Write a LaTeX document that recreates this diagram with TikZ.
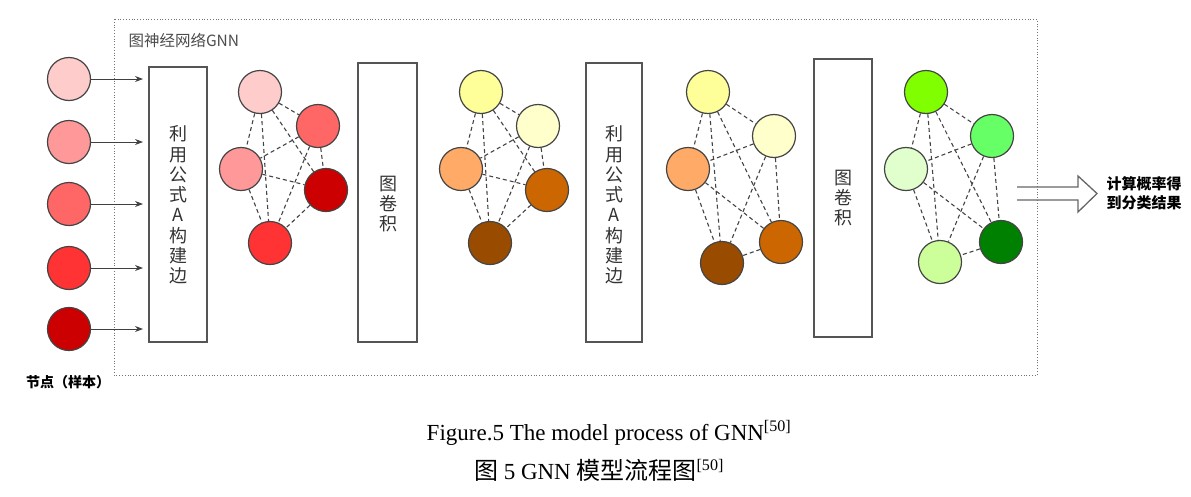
\documentclass[tikz,border=0pt]{standalone}
\usepackage{fontspec}
\setmainfont{Liberation Serif}
\newfontfamily\cjk{Noto Sans CJK SC}
\usetikzlibrary{arrows.meta}
\definecolor{r1}{HTML}{FFCCCC}
\definecolor{r2}{HTML}{FF9999}
\definecolor{r3}{HTML}{FF6666}
\definecolor{r4}{HTML}{FF3333}
\definecolor{r5}{HTML}{CC0000}
\definecolor{y1}{HTML}{FFFF99}
\definecolor{y2}{HTML}{FFFFCC}
\definecolor{o1}{HTML}{FFAA66}
\definecolor{o2}{HTML}{CC6600}
\definecolor{o3}{HTML}{994C00}
\definecolor{gA}{HTML}{80FF00}
\definecolor{gB}{HTML}{66FF66}
\definecolor{gC}{HTML}{E0FFCC}
\definecolor{gD}{HTML}{008000}
\definecolor{gE}{HTML}{CCFF99}
\definecolor{linegray}{HTML}{444444}
\definecolor{boxgray}{HTML}{555555}
\tikzset{
  nd/.style={circle,draw=linegray,line width=1.2pt,minimum size=43pt,inner sep=0pt},
  edge/.style={draw=linegray,line width=1.1pt,dash pattern=on 4pt off 3pt},
  stagebox/.style={draw=boxgray,line width=1.6pt,fill=white},
  vtext/.style={align=center,font=\cjk\fontsize{18}{20.3}\selectfont,text=black!80},
  inarrow/.style={draw=black!75,line width=0.9pt,-{Stealth[length=8pt,width=6pt]}},
}
\begin{document}
\begin{tikzpicture}[x=1pt,y=-1pt]
\useasboundingbox (0,0) rectangle (1191,496);
% outer dotted frame
\draw[black!55,line width=0.8pt,dotted] (114,19) rectangle (1037,375);
\node[anchor=west,font=\cjk\fontsize{15.5}{16}\selectfont,text=black!70] (title) at (125,41) {图神经网络GNN};
% input nodes
\foreach \i/\y/\c in {1/79/r1,2/142/r2,3/204/r3,4/268/r4,5/329/r5}{
  \node[nd,fill=\c] (n\i) at (69,\y) {};
  \coordinate (t\i) at (143,\y);
  \draw[inarrow] (n\i.east) -- (t\i);
}
\node[font=\cjk\bfseries\fontsize{14}{15}\selectfont] (lbl) at (68,382) {节点（样本）};
% stage boxes
\draw[stagebox] (149,67) rectangle (207,342);
\node[vtext] (b1) at (178,205) {利\\用\\公\\式\\A\\构\\建\\边};
\draw[stagebox] (358,63) rectangle (417,342);
\node[vtext] (b2) at (388,204) {图\\卷\\积};
\draw[stagebox] (586,63) rectangle (642,342);
\node[vtext] (b3) at (614,205) {利\\用\\公\\式\\A\\构\\建\\边};
\draw[stagebox] (814,59) rectangle (872,337);
\node[vtext] (b4) at (843,198) {图\\卷\\积};
% graph 1
\node[nd,fill=r1] (g1a) at (260,92) {};
\node[nd,fill=r3] (g1b) at (318,126) {};
\node[nd,fill=r2] (g1c) at (241,169) {};
\node[nd,fill=r5] (g1d) at (326,190) {};
\node[nd,fill=r4] (g1e) at (270,243) {};
% graph 2
\node[nd,fill=y1] (g2a) at (481,92) {};
\node[nd,fill=y2] (g2b) at (538,126) {};
\node[nd,fill=o1] (g2c) at (461,169) {};
\node[nd,fill=o2] (g2d) at (547,190) {};
\node[nd,fill=o3] (g2e) at (490,243) {};
% graph 3
\node[nd,fill=y1] (g3a) at (708,92) {};
\node[nd,fill=y2] (g3b) at (774,136) {};
\node[nd,fill=o1] (g3c) at (688,169) {};
\node[nd,fill=o2] (g3d) at (781,242) {};
\node[nd,fill=o3] (g3e) at (722,263) {};
% graph 4
\node[nd,fill=gA] (g4a) at (926,92) {};
\node[nd,fill=gB] (g4b) at (992,136) {};
\node[nd,fill=gC] (g4c) at (906,169) {};
\node[nd,fill=gD] (g4d) at (1001,242) {};
\node[nd,fill=gE] (g4e) at (940,262) {};
\foreach \g in {1,2,3,4}{
  \foreach \u/\v in {a/b,a/c,a/d,a/e,b/c,b/d,b/e,c/d,c/e,d/e}{
    \draw[edge] (g\g\u) -- (g\g\v);
  }
}
% output arrow
\draw[black!60,line width=1.3pt,line join=miter]
  (1017,187) -- (1078,187) -- (1078,176) -- (1097,193.5) -- (1078,212) -- (1078,200) -- (1017,200);
\node[align=left,font=\cjk\bfseries\fontsize{15}{19}\selectfont,anchor=west] (res) at (1103,193) {计算概率得\\到分类结果};
% captions
\node[font=\fontsize{23}{25}\selectfont] (cap1) at (609,433) {Figure.5 The model process of GNN\textsuperscript{[50]}};
\node[font=\fontsize{23}{25}\selectfont] (cap2) at (599,470) {{\cjk\fontsize{24}{25}\selectfont 图} 5 GNN {\cjk\fontsize{24}{25}\selectfont 模型流程图}\textsuperscript{[50]}};
\end{tikzpicture}
\end{document}
